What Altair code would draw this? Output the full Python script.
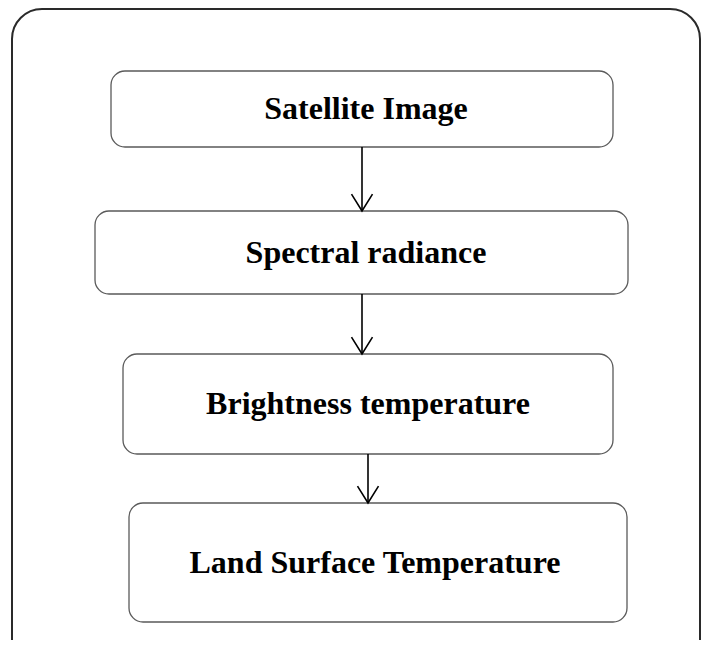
import altair as alt
import pandas as pd

# Flowchart content (page pixel coordinates)
labels = ["Satellite Image", "Spectral radiance", "Brightness temperature", "Land Surface Temperature"]
box_left = [111, 95, 123, 129]
box_right = [613, 628, 613, 627]
box_top = [71, 211, 354, 503]
box_bottom = [147, 294, 454, 622]
text_x = [366, 366, 368, 375]

arrow_x = [362, 362, 368]
arrow_from = [147, 294, 454]
arrow_to = [211, 354, 503]

outer_left, outer_right, outer_top, outer_bottom = [12], [700], [9], [680]

boxes = pd.DataFrame({
    "label": labels, "x1": box_left, "x2": box_right,
    "y1": box_top, "y2": box_bottom, "tx": text_x,
})
boxes["ty"] = (boxes["y1"] + boxes["y2"]) / 2
arrows = pd.DataFrame({"x": arrow_x, "y1": arrow_from, "y2": arrow_to})
outer = pd.DataFrame({"x1": outer_left, "x2": outer_right, "y1": outer_top, "y2": outer_bottom})

xs = alt.Scale(domain=[8, 701], range=[0, 693], clamp=False)
ys = alt.Scale(domain=[8, 640], range=[0, 632], clamp=False)

outer_rect = alt.Chart(outer).mark_rect(
    cornerRadius=30, fill="white", stroke="#2a2a2a", strokeWidth=2
).encode(
    x=alt.X("x1:Q", scale=xs, axis=None), x2="x2:Q",
    y=alt.Y("y1:Q", scale=ys, axis=None), y2="y2:Q",
)

box_rects = alt.Chart(boxes).mark_rect(
    cornerRadius=14, fill="white", stroke="#5a5a5a", strokeWidth=1.3
).encode(
    x=alt.X("x1:Q", scale=xs, axis=None), x2="x2:Q",
    y=alt.Y("y1:Q", scale=ys, axis=None), y2="y2:Q",
)

box_text = alt.Chart(boxes).mark_text(
    font="Liberation Serif", fontWeight="bold", fontSize=32, color="black",
    align="center", baseline="middle"
).encode(
    x=alt.X("tx:Q", scale=xs, axis=None),
    y=alt.Y("ty:Q", scale=ys, axis=None),
    text="label:N",
)

shafts = alt.Chart(arrows).mark_rule(color="black", strokeWidth=1.6).encode(
    x=alt.X("x:Q", scale=xs, axis=None),
    y=alt.Y("y1:Q", scale=ys, axis=None), y2="y2:Q",
)

heads = alt.Chart(arrows).mark_point(
    shape="M-1,-1.6L0,0L1,-1.6", size=441, filled=False,
    stroke="black", strokeWidth=1.6, opacity=1
).encode(
    x=alt.X("x:Q", scale=xs, axis=None),
    y=alt.Y("y2:Q", scale=ys, axis=None),
)

chart = alt.layer(outer_rect, box_rects, box_text, shafts, heads).properties(
    width=693, height=632, padding=0,
    autosize=alt.AutoSizeParams(type="none"),
).configure_view(stroke=None)

chart.save("out.html", embed_options={"renderer": "svg", "actions": False})
